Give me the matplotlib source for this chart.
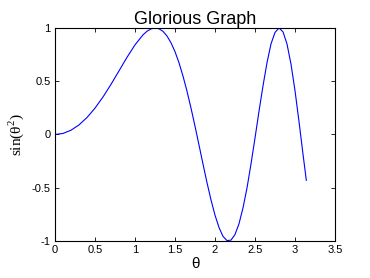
import matplotlib
matplotlib.use('Agg')
import matplotlib.pyplot as plt

plt.rcParams['font.family'] = ['Liberation Sans', 'DejaVu Sans']
plt.rcParams['axes.unicode_minus'] = False
plt.rcParams['mathtext.fontset'] = 'custom'
plt.rcParams['mathtext.rm'] = 'Liberation Serif'

# theta samples and sin(theta^2)
theta = [0.0, 0.1, 0.2, 0.3, 0.4, 0.5, 0.6, 0.7, 0.8, 0.9, 1.0, 1.1, 1.15, 1.2,
         1.25, 1.3, 1.35, 1.4, 1.45, 1.5, 1.55, 1.6, 1.65, 1.7, 1.75, 1.8, 1.85,
         1.9, 1.95, 2.0, 2.05, 2.1, 2.15, 2.2, 2.25, 2.3, 2.35, 2.4, 2.45, 2.5,
         2.55, 2.6, 2.65, 2.7, 2.75, 2.8, 2.85, 2.9, 2.95, 3.0, 3.05, 3.1, 3.1416]
vals = [0.0, 0.0100, 0.0400, 0.0899, 0.1593, 0.2474, 0.3523, 0.4706, 0.5972,
        0.7243, 0.8415, 0.9356, 0.9694, 0.9915, 1.0000, 0.9929, 0.9685, 0.9249,
        0.8617, 0.7781, 0.6737, 0.5487, 0.4069, 0.2486, 0.0790, -0.0984,
        -0.2772, -0.4520, -0.6139, -0.7568, -0.8728, -0.9566, -0.9961, -0.9918,
        -0.9394, -0.8383, -0.6891, -0.5025, -0.2770, -0.0332, 0.2175, 0.4566,
        0.6738, 0.8504, 0.9579, 0.9998, 0.9641, 0.8496, 0.6609, 0.4121, 0.1220,
        -0.1841, -0.4303]

xticks = [0, 0.5, 1, 1.5, 2, 2.5, 3, 3.5]
xticklabels = ['0', '0.5', '1', '1.5', '2', '2.5', '3', '3.5']
yticks = [-1, -0.5, 0, 0.5, 1]
yticklabels = ['-1', '-0.5', '0', '0.5', '1']

fig = plt.figure(figsize=(3.7, 2.78), dpi=100)
ax = fig.add_axes([0.1486, 0.1331, 0.7568, 0.7662])
ax.plot(theta, vals, color='#0000ff', linewidth=0.8)

ax.set_xlim(0, 3.5)
ax.set_ylim(-1, 1)
ax.set_xticks(xticks)
ax.set_xticklabels(xticklabels)
ax.set_yticks(yticks)
ax.set_yticklabels(yticklabels)
ax.tick_params(direction='in', length=3, width=0.6, labelsize=8,
               top=True, right=True, pad=3)
for s in ax.spines.values():
    s.set_linewidth(0.8)

ax.set_title('Glorious Graph', fontsize=13, pad=3)
ax.set_xlabel('θ', fontsize=11, labelpad=1)
ax.set_ylabel(r'$\mathrm{sin(θ}^{2}\mathrm{)}$', fontsize=11, labelpad=4)

fig.savefig('out.png', dpi=100)
